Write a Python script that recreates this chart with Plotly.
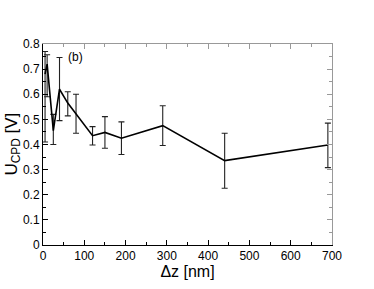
import plotly.graph_objects as go

dz_nm = [5, 10, 25, 40, 60, 80, 120, 150, 190, 290, 440, 690]
u_cpd = [0.68, 0.72, 0.455, 0.62, 0.565, 0.52, 0.435, 0.448, 0.425, 0.475, 0.336, 0.398]
u_upper = [0.77, 0.757, 0.52, 0.746, 0.61, 0.60, 0.471, 0.511, 0.49, 0.554, 0.445, 0.485]
u_lower = [0.41, 0.59, 0.40, 0.495, 0.514, 0.445, 0.398, 0.385, 0.36, 0.396, 0.226, 0.308]

err_plus = [u - v for u, v in zip(u_upper, u_cpd)]
err_minus = [v - l for v, l in zip(u_cpd, u_lower)]

fig = go.Figure()
fig.add_trace(go.Scatter(
    x=dz_nm, y=u_cpd, mode="lines",
    line=dict(color="black", width=1.6),
    error_y=dict(type="data", symmetric=False, array=err_plus, arrayminus=err_minus,
                 color="#222222", thickness=1.1, width=3),
    showlegend=False,
))
# invisible trace for mirrored gray axes
fig.add_trace(go.Scatter(x=[0], y=[0], xaxis="x2", yaxis="y2", mode="markers",
                         marker=dict(opacity=0), showlegend=False, hoverinfo="skip"))

font = dict(family="Liberation Sans, Arial, sans-serif", color="black")
fig.update_layout(
    width=374, height=289,
    margin=dict(l=43, r=42, t=44, b=44),
    paper_bgcolor="white", plot_bgcolor="white",
    font=font,
    xaxis=dict(range=[0, 700], dtick=100, ticks="inside", ticklen=5, tickwidth=1,
               tickcolor="black", showline=True, linecolor="black", linewidth=1,
               showgrid=False, zeroline=False, tickfont=dict(size=12, **font),
               automargin=False,
               minor=dict(dtick=50, ticks="inside", ticklen=3, tickcolor="black"),
               title=dict(text="Δz [nm]", font=dict(size=16, **font), standoff=0)),
    yaxis=dict(range=[0, 0.8], dtick=0.1, ticks="inside", ticklen=5, tickwidth=1,
               tickcolor="black", showline=True, linecolor="black", linewidth=1,
               showgrid=False, zeroline=False, tickfont=dict(size=12, **font),
               automargin=False,
               minor=dict(dtick=0.05, ticks="inside", ticklen=3, tickcolor="black")),
    xaxis2=dict(overlaying="x", side="top", range=[0, 700], dtick=100, ticks="inside",
                ticklen=5, tickcolor="#999999", showline=True, linecolor="#999999",
                showticklabels=False, showgrid=False, zeroline=False, automargin=False,
                minor=dict(dtick=50, ticks="inside", ticklen=3, tickcolor="#999999")),
    yaxis2=dict(overlaying="y", side="right", range=[0, 0.8], dtick=0.1, ticks="inside",
                ticklen=5, tickcolor="#999999", showline=True, linecolor="#999999",
                showticklabels=False, showgrid=False, zeroline=False, automargin=False,
                minor=dict(dtick=0.05, ticks="inside", ticklen=3, tickcolor="#999999")),
    annotations=[
        dict(text="(b)", x=0.111, y=0.935, xref="paper", yref="paper",
             showarrow=False, xanchor="center", yanchor="middle",
             font=dict(size=12, **font)),
        dict(text="U<sub>CPD</sub> [V]", x=-0.107, y=0.5, xref="paper", yref="paper",
             textangle=-90, showarrow=False, xanchor="center", yanchor="middle",
             font=dict(size=17, **font)),
    ],
)
fig.write_html("out.html", config={"displayModeBar": False},
               post_script="document.body.style.margin='0';")
